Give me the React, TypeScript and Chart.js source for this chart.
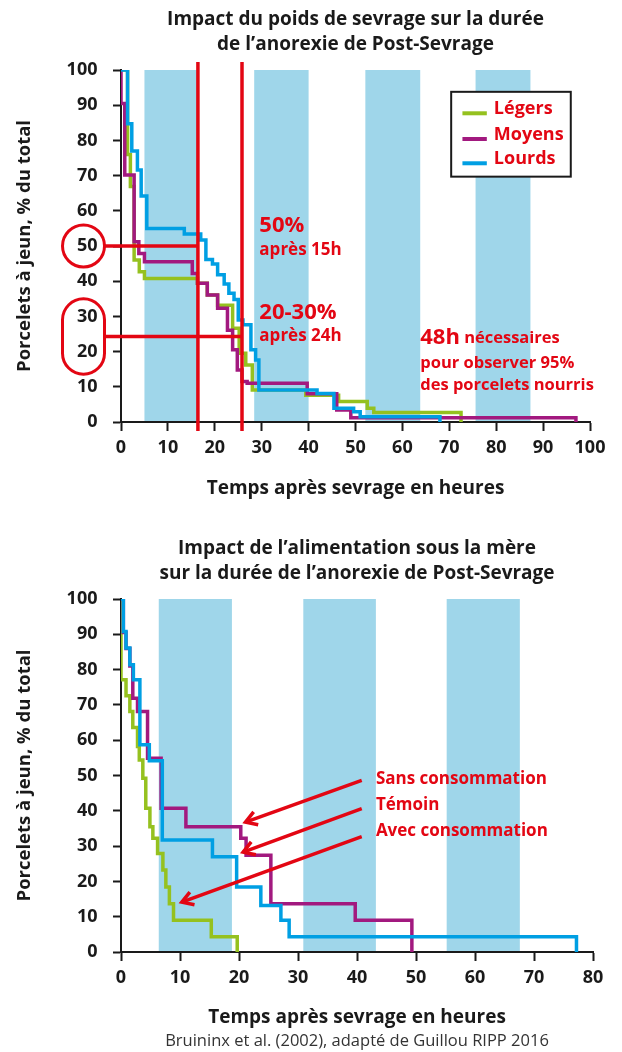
import React, { useEffect, useRef } from "react";
import { Chart, registerables } from "chart.js";

Chart.register(...registerables);

const FONT = "'Open Sans', 'DejaVu Sans', sans-serif";
const RED = "#e30613";
const BLACK = "#1a1a1a";
const GREEN = "#95c11f";
const PURPLE = "#a2197f";
const BLUE = "#009fe3";
const BAND = "#9fd6ea";

// ---------------- shared texts ----------------
const yTitle = "Porcelets à jeun, % du total";
const xTitle = "Temps après sevrage en heures";
const source = "Bruininx et al. (2002), adapté de Guillou RIPP 2016";

// ---------------- chart 1 : poids de sevrage ----------------
const title1 = ["Impact du poids de sevrage sur la durée", "de l’anorexie de Post-Sevrage"];
const labels1 = ["Légers", "Moyens", "Lourds"];

const legersX = [0, 1.4, 2.0, 2.8, 3.9, 5.0, 16.3, 18.4, 20.6, 23.8, 25.2, 26.6, 28.0, 39.4, 46.4, 52.5, 53.9, 72.5];
const legersY = [100, 76, 66.9, 46, 42.7, 40.8, 39.4, 36.1, 33.2, 26.6, 19.5, 16.2, 9.1, 7.6, 5.8, 3.9, 2.7, 0];

const moyensX = [0, 0, 0.8, 2.8, 3.8, 5.0, 15.2, 16.3, 18.4, 20.6, 22.7, 23.8, 24.8, 25.8, 26.9, 39.7, 46.0, 49.0, 97];
const moyensY = [100, 90.5, 70.2, 51.2, 47.9, 45.5, 42.2, 39.4, 36.1, 32.3, 26.1, 20.5, 14.8, 11.5, 11, 8, 3.4, 1.2, 0];

const lourdsX = [0, 1.4, 2.3, 3.5, 4.3, 5.5, 13.5, 17.0, 18.1, 19.5, 20.6, 22.0, 23.0, 24.1, 25.0, 26.0, 27.7, 28.7, 29.4, 41.8, 45.4, 49.6, 51.0, 68];
const lourdsY = [100, 84.7, 77, 71.6, 64.2, 55, 53.4, 51.7, 46.2, 44.9, 41.8, 39.2, 36.6, 34.8, 29, 27.6, 20.5, 17.6, 9.1, 8.1, 3.9, 2.9, 1.5, 0];

const bands1 = [[5, 16.4], [28.4, 40], [52.1, 63.8], [75.6, 87.3]];
const markerHours1 = [16.4, 25.8];
const markerLevels1 = [50, 24.3];

const notes1 = [
  { parts: [["50%", 22]], x: 29.5, y: 55.8 },
  { parts: [["après 15h", 17]], x: 29.5, y: 48.9 },
  { parts: [["20-30%", 22]], x: 29.5, y: 31 },
  { parts: [["après 24h", 17]], x: 29.5, y: 24.4 },
  { parts: [["48h", 22], [" nécessaires", 16.5]], x: 63.8, y: 23.9 },
  { parts: [["pour observer 95%", 16.5]], x: 63.8, y: 16.7 },
  { parts: [["des porcelets nourris", 16.5]], x: 63.8, y: 10.5 },
];

// ---------------- chart 2 : alimentation sous la mère ----------------
const title2 = ["Impact de l’alimentation sous la mère", "sur la durée de l’anorexie de Post-Sevrage"];
const labels2 = ["Avec consommation", "Sans consommation", "Témoin"];

const avecX = [0, 0, 0.85, 1.5, 2.0, 2.8, 3.1, 3.7, 4.2, 4.9, 5.4, 6.2, 7.1, 7.6, 8.2, 8.9, 15.3, 19.7];
const avecY = [100, 77.1, 72.6, 68.1, 63.6, 58.2, 54.4, 49.2, 40.7, 35.5, 32.2, 27.9, 23.2, 18.4, 13.7, 9.0, 4.3, 0];

const sansX = [0, 0.4, 0.85, 1.5, 2.0, 2.8, 4.5, 6.8, 11.0, 20.3, 21.2, 25.4, 39.7, 49.3];
const sansY = [100, 90.5, 86, 81, 71.9, 68.1, 54.9, 40.7, 35.5, 32.2, 27.4, 13.7, 9, 0];

const temoinX = [0, 0.4, 0.85, 1.5, 2.1, 3.2, 4.8, 7.0, 15.5, 19.6, 23.7, 27.1, 28.5, 77.2];
const temoinY = [100, 90.8, 86.1, 81.4, 77.1, 58.7, 54.2, 31.7, 27, 18.4, 13.2, 9, 4.3, 0];

const bands2 = [[6.4, 18.8], [30.9, 43.2], [55.2, 67.6]];
const arrows2 = [
  { from: [40.8, 48.6], to: [21.1, 36.8] },
  { from: [40.8, 40.6], to: [20.7, 28.3] },
  { from: [40.8, 32.7], to: [10.3, 14.1] },
];
const arrowLabels2 = [
  { text: "Sans consommation", x: 43.2, y: 49.1 },
  { text: "Témoin", x: 43.2, y: 41.7 },
  { text: "Avec consommation", x: 43.2, y: 34.2 },
];

// ---------------- helpers ----------------
const pts = (xs: number[], ys: number[]) => xs.map((x, i) => ({ x, y: ys[i] }));

function lineDs(label: string, xs: number[], ys: number[], color: string, order: number) {
  return {
    label,
    data: pts(xs, ys),
    borderColor: color,
    backgroundColor: color,
    borderWidth: 3.5,
    pointRadius: 0,
    pointHoverRadius: 0,
    stepped: true,
    fill: false,
    order,
    borderCapStyle: "butt",
    borderJoinStyle: "miter",
  };
}

function bandsPlugin(bands: number[][]) {
  return {
    id: "bands",
    beforeDraw(chart: any) {
      const { ctx, chartArea: a, scales } = chart;
      const x = scales.x;
      ctx.save();
      ctx.fillStyle = BAND;
      for (const [s, e] of bands) {
        const x0 = x.getPixelForValue(s);
        const x1 = x.getPixelForValue(e);
        ctx.fillRect(x0, a.top, x1 - x0, a.bottom - a.top);
      }
      ctx.restore();
    },
  };
}

function font(size: number, weight = "bold") {
  return `${weight} ${size}px ${FONT}`;
}

function drawParts(ctx: CanvasRenderingContext2D, parts: any[], px: number, py: number) {
  let cx = px;
  for (const [t, s] of parts) {
    ctx.font = font(s);
    ctx.fillText(t, cx, py);
    cx += ctx.measureText(t).width;
  }
}

function line(ctx: CanvasRenderingContext2D, x0: number, y0: number, x1: number, y1: number) {
  ctx.beginPath();
  ctx.moveTo(x0, y0);
  ctx.lineTo(x1, y1);
  ctx.stroke();
}

const annot1 = {
  id: "annot1",
  afterDatasetsDraw(chart: any) {
    const { ctx, chartArea: a, scales } = chart;
    const x = scales.x;
    const y = scales.y;
    ctx.save();
    ctx.strokeStyle = RED;
    ctx.fillStyle = RED;
    ctx.lineCap = "butt";

    // vertical markers
    ctx.lineWidth = 3.5;
    for (const h of markerHours1) {
      const px = x.getPixelForValue(h);
      line(ctx, px, a.top - 8, px, a.bottom + 9);
    }

    // circle around "50" and pill around "30"/"20"
    const cx = a.left - 37.5;
    const r = 21;
    ctx.lineWidth = 3;
    ctx.beginPath();
    ctx.arc(cx, y.getPixelForValue(50), r, 0, Math.PI * 2);
    ctx.stroke();
    const pt = y.getPixelForValue(35);
    const pb = y.getPixelForValue(13.6);
    ctx.beginPath();
    ctx.moveTo(cx - r, pt + r);
    ctx.arc(cx, pt + r, r, Math.PI, 0);
    ctx.lineTo(cx + r, pb - r);
    ctx.arc(cx, pb - r, r, 0, Math.PI);
    ctx.closePath();
    ctx.stroke();

    // horizontal markers
    ctx.lineWidth = 3.5;
    markerLevels1.forEach((lv, i) => {
      const py = y.getPixelForValue(lv);
      line(ctx, cx + r, py, x.getPixelForValue(markerHours1[i]), py);
    });

    // notes
    ctx.textBaseline = "middle";
    ctx.textAlign = "left";
    for (const n of notes1) {
      drawParts(ctx, n.parts, x.getPixelForValue(n.x), y.getPixelForValue(n.y));
    }

    // legend box
    const bx0 = x.getPixelForValue(70.4);
    const bx1 = x.getPixelForValue(95.9);
    const by0 = y.getPixelForValue(93.8);
    const by1 = y.getPixelForValue(69.7);
    ctx.fillStyle = "#ffffff";
    ctx.fillRect(bx0, by0, bx1 - bx0, by1 - by0);
    ctx.strokeStyle = BLACK;
    ctx.lineWidth = 2;
    ctx.strokeRect(bx0, by0, bx1 - bx0, by1 - by0);
    const rows = [87.7, 80.4, 73.5];
    const dsColors = [GREEN, PURPLE, BLUE];
    labels1.forEach((lab, i) => {
      const ry = y.getPixelForValue(rows[i]);
      ctx.strokeStyle = dsColors[i];
      ctx.lineWidth = 4;
      line(ctx, x.getPixelForValue(72.8), ry, x.getPixelForValue(78.0), ry);
      ctx.fillStyle = RED;
      ctx.font = font(18);
      ctx.fillText(lab, x.getPixelForValue(79.5), ry - 4.5);
    });
    ctx.restore();
  },
};

const annot2 = {
  id: "annot2",
  afterDatasetsDraw(chart: any) {
    const { ctx, scales } = chart;
    const x = scales.x;
    const y = scales.y;
    ctx.save();
    ctx.strokeStyle = RED;
    ctx.fillStyle = RED;
    ctx.lineWidth = 3.5;
    ctx.lineCap = "butt";
    for (const ar of arrows2) {
      const x0 = x.getPixelForValue(ar.from[0]);
      const y0 = y.getPixelForValue(ar.from[1]);
      const x1 = x.getPixelForValue(ar.to[0]);
      const y1 = y.getPixelForValue(ar.to[1]);
      line(ctx, x0, y0, x1, y1);
      const ang = Math.atan2(y0 - y1, x0 - x1);
      const len = 13;
      ctx.beginPath();
      ctx.moveTo(x1 + len * Math.cos(ang - 0.55), y1 + len * Math.sin(ang - 0.55));
      ctx.lineTo(x1, y1);
      ctx.lineTo(x1 + len * Math.cos(ang + 0.55), y1 + len * Math.sin(ang + 0.55));
      ctx.stroke();
    }
    ctx.textBaseline = "middle";
    ctx.textAlign = "left";
    ctx.font = font(17);
    for (const l of arrowLabels2) {
      ctx.fillText(l.text, x.getPixelForValue(l.x), y.getPixelForValue(l.y));
    }
    ctx.restore();
  },
};

function buildOptions(p: { titleLines: string[]; xMax: number; padRight: number; xHeight: number; xTitlePad: number; withSource: boolean }) {
  return {
    responsive: false,
    maintainAspectRatio: false,
    animation: false,
    events: [],
    layout: { padding: { left: 0, right: p.padRight, top: 0, bottom: 0 } },
    plugins: {
      legend: { display: false },
      tooltip: { enabled: false },
      title: {
        display: true,
        fullSize: false,
        text: p.titleLines,
        color: BLACK,
        font: { family: FONT, size: 19, weight: "bold", lineHeight: "25px" },
        padding: { top: 7.5, bottom: 12.5 },
      },
      subtitle: p.withSource
        ? {
            display: true,
            fullSize: false,
            position: "bottom",
            text: source,
            color: "#333333",
            font: { family: FONT, size: 16.5, weight: "normal", lineHeight: "18px" },
            padding: { top: 0, bottom: 2 },
          }
        : { display: false },
    },
    scales: {
      x: {
        type: "linear",
        min: 0,
        max: p.xMax,
        ticks: {
          stepSize: 10,
          color: BLACK,
          font: { family: FONT, size: 18, weight: "bold" },
          padding: 6,
          maxRotation: 0,
          autoSkip: false,
        },
        grid: { drawOnChartArea: false, drawTicks: true, tickLength: 9, tickWidth: 2, tickColor: BLACK, color: BLACK },
        border: { display: true, color: BLACK, width: 2 },
        title: {
          display: true,
          text: xTitle,
          color: BLACK,
          font: { family: FONT, size: 19, weight: "bold" },
          padding: { top: 0, bottom: p.xTitlePad },
        },
        afterFit: (s: any) => {
          s.height = p.xHeight;
        },
      },
      y: {
        type: "linear",
        min: 0,
        max: 100,
        ticks: {
          stepSize: 10,
          color: BLACK,
          font: { family: FONT, size: 18, weight: "bold" },
          padding: 15.5,
        },
        grid: { drawOnChartArea: false, drawTicks: true, tickLength: 8, tickWidth: 2, tickColor: BLACK, color: BLACK },
        border: { display: true, color: BLACK, width: 2 },
        title: {
          display: true,
          text: yTitle,
          color: BLACK,
          font: { family: FONT, size: 18.5, weight: "bold" },
          padding: { top: 13.9, bottom: 0 },
        },
        afterFit: (s: any) => {
          s.width = 121;
        },
      },
    },
  };
}

export default function App() {
  const ref1 = useRef<HTMLCanvasElement>(null);
  const ref2 = useRef<HTMLCanvasElement>(null);

  useEffect(() => {
    const c1 = new Chart(ref1.current as HTMLCanvasElement, {
      type: "line",
      data: {
        datasets: [
          lineDs(labels1[0], legersX, legersY, GREEN, 2),
          lineDs(labels1[1], moyensX, moyensY, PURPLE, 1),
          lineDs(labels1[2], lourdsX, lourdsY, BLUE, 0),
        ],
      },
      options: buildOptions({ titleLines: title1, xMax: 100, padRight: 32, xHeight: 107, xTitlePad: 28.6, withSource: false }) as any,
      plugins: [bandsPlugin(bands1), annot1],
    } as any);

    const c2 = new Chart(ref2.current as HTMLCanvasElement, {
      type: "line",
      data: {
        datasets: [
          lineDs(labels2[0], avecX, avecY, GREEN, 2),
          lineDs(labels2[1], sansX, sansY, PURPLE, 1),
          lineDs(labels2[2], temoinX, temoinY, BLUE, 0),
        ],
      },
      options: buildOptions({ titleLines: title2, xMax: 80, padRight: 29, xHeight: 80, xTitlePad: 3.1, withSource: true }) as any,
      plugins: [bandsPlugin(bands2), annot2],
    } as any);

    return () => {
      c1.destroy();
      c2.destroy();
    };
  }, []);

  return (
    <div style={{ position: "absolute", left: 0, top: 0, width: 622, height: 1052, background: "#ffffff" }}>
      <canvas ref={ref1} width={622} height={529} style={{ display: "block", width: 622, height: 529 }} />
      <canvas ref={ref2} width={622} height={523} style={{ display: "block", width: 622, height: 523 }} />
    </div>
  );
}
